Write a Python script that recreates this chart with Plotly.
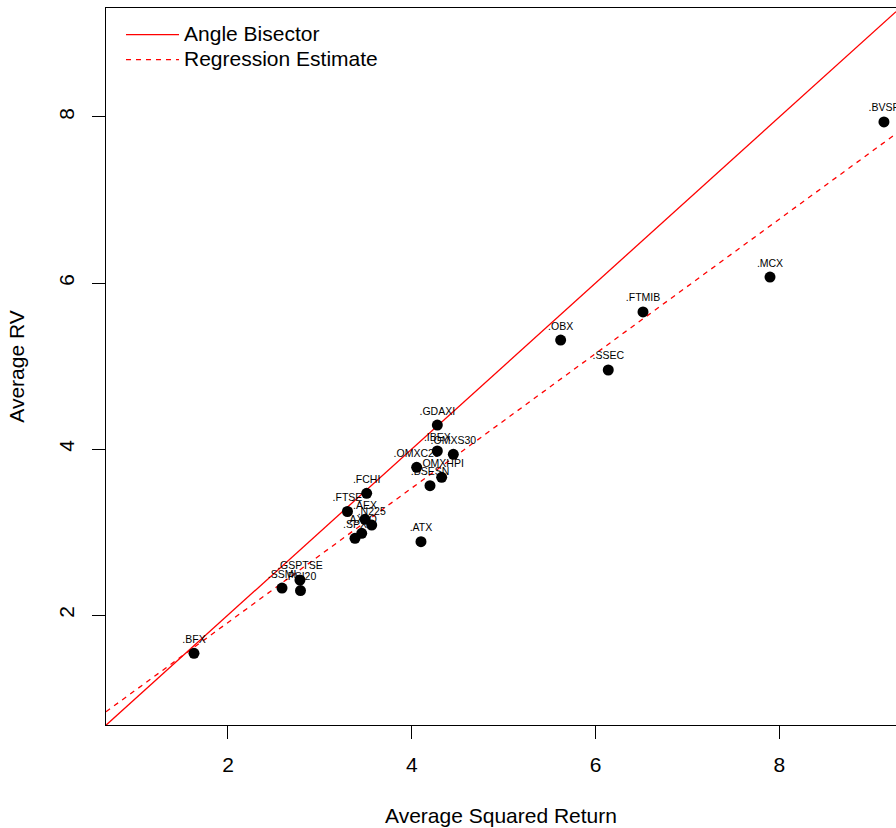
import plotly.graph_objects as go

labels = [".BVSP", ".MCX", ".FTMIB", ".OBX", ".SSEC", ".GDAXI", ".IBEX", ".OMXS30",
          ".OMXC20", ".OMXHPI", ".BSESN", ".ATX", ".FCHI", ".FTSE", ".AEX", ".N225",
          ".AXJO", ".SPX", ".SSMI", ".GSPTSE", ".PSI20", ".BFX"]
avg_sq_return = [9.138, 7.898, 6.516, 5.620, 6.138, 4.278, 4.278, 4.452,
                 4.053, 4.325, 4.198, 4.100, 3.509, 3.300, 3.491, 3.564,
                 3.455, 3.382, 2.588, 2.783, 2.789, 1.630]
avg_rv = [7.940, 6.072, 5.651, 5.313, 4.952, 4.289, 3.976, 3.936,
          3.780, 3.659, 3.558, 2.883, 3.466, 3.247, 3.153, 3.084,
          2.984, 2.924, 2.325, 2.422, 2.295, 1.539]

# regression estimate
reg_intercept = 0.29
reg_slope = 0.81

legend_names = ["Angle Bisector", "Regression Estimate"]
x_range = [0.6725, 9.269]
y_range = [0.675, 9.313]
tick_vals = [2, 4, 6, 8]

line_x = x_range
reg_y = [reg_intercept + reg_slope * v for v in line_x]

FONT = "Liberation Sans, Arial, Helvetica, sans-serif"


def big(s):
    return '<span style="font-size:21px">' + s + "</span>"


fig = go.Figure()
fig.add_trace(go.Scatter(x=line_x, y=line_x, mode="lines", name=big(legend_names[0]),
                         line=dict(color="#FF0000", width=1.3)))
fig.add_trace(go.Scatter(x=line_x, y=reg_y, mode="lines", name=big(legend_names[1]),
                         line=dict(color="#FF0000", width=1.3, dash="5px,5px")))
fig.add_trace(go.Scatter(x=avg_sq_return, y=avg_rv, mode="markers+text", text=labels,
                         textposition="top center", showlegend=False,
                         textfont=dict(size=10.5, color="black", family=FONT),
                         marker=dict(size=11, color="black")))

fig.update_layout(
    width=896, height=828,
    margin=dict(l=106, r=0, t=8, b=103),
    plot_bgcolor="white", paper_bgcolor="white",
    font=dict(family=FONT, size=21, color="black"),
    showlegend=True,
    legend=dict(x=0.019, y=0.9874, xanchor="left", yanchor="top",
                bgcolor="rgba(0,0,0,0)", font=dict(size=17), tracegroupgap=0,
                itemwidth=53),
    xaxis=dict(range=x_range, tickvals=tick_vals, ticks="outside", ticklen=13,
               tickcolor="black", showline=True, linecolor="black", linewidth=1,
               mirror=True, showgrid=False, zeroline=False, ticklabelstandoff=8,
               tickfont=dict(size=21),
               title=dict(text="Average Squared Return", standoff=33, font=dict(size=21)),
               automargin=False),
    yaxis=dict(range=y_range, tickvals=tick_vals, ticks="outside", ticklen=13,
               tickcolor="black", showline=True, linecolor="black", linewidth=1,
               showgrid=False, zeroline=False, tickangle=-90, ticklabelstandoff=10,
               tickfont=dict(size=21),
               title=dict(text="Average RV", standoff=24, font=dict(size=21)),
               automargin=False),
)
fig.write_html("out.html", config={"displayModeBar": False},
               post_script="document.body.style.margin='0';"
                           "document.body.style.overflow='hidden';")
